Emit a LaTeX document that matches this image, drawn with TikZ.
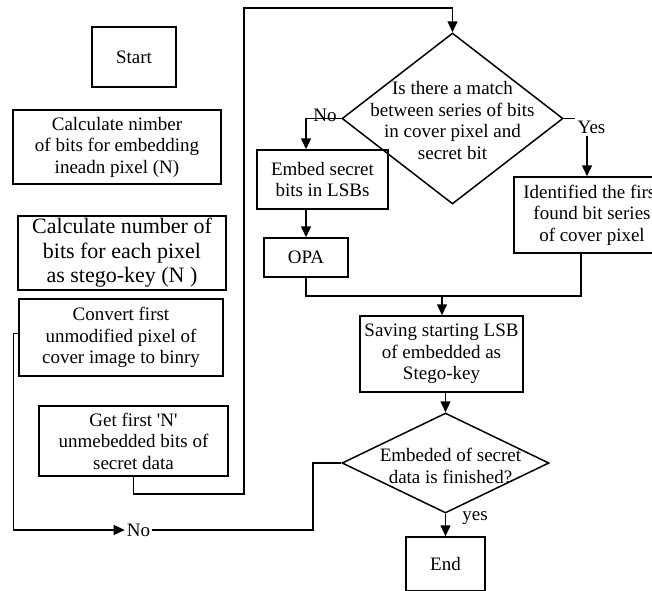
\documentclass[tikz,border=0pt]{standalone}
\usepackage{fontspec}
\setmainfont{Liberation Serif}
\usetikzlibrary{shapes.geometric,arrows.meta}
\begin{document}
\begin{tikzpicture}[x=1pt,y=-1pt,
  every node/.style={font=\fontsize{19}{21.5}\selectfont},
  procbox/.style={draw, line width=1.5pt, inner sep=0pt, align=center},
  decision/.style={draw, line width=1.5pt, shape=diamond, inner sep=0pt},
  flow/.style={line width=1.5pt},
  arr/.style={flow, -{Triangle[length=11pt,width=10pt]}},
  tag/.style={fill=white, inner sep=1pt}
]
\path[use as bounding box, clip] (0,0) rectangle (652,590);

% process boxes
\node[procbox, minimum width=84pt, minimum height=60pt] (start) at (134,57) {Start};
\node[procbox, minimum width=208pt, minimum height=74pt] (calc1) at (117,147)
  {Calculate nimber\\of bits for embedding\\ineadn pixel (N)};
\node[procbox, minimum width=208pt, minimum height=74pt,
      font=\fontsize{22}{24.5}\selectfont] (calc2) at (122,253)
  {Calculate number of\\bits for each pixel\\as stego-key (N )};
\node[procbox, minimum width=204pt, minimum height=77pt] (convert) at (121,337.5)
  {Convert first\\unmodified pixel of\\cover image to binry};
\node[procbox, minimum width=189pt, minimum height=70pt] (getfirst) at (133.5,441)
  {Get first \textquotesingle N\textquotesingle\\unmebedded bits of\\secret data};
\node[procbox, minimum width=131pt, minimum height=59pt] (embed) at (322.5,179.5)
  {Embed secret\\bits in LSBs};
\node[procbox, minimum width=84pt, minimum height=39pt] (opa) at (306,257.5) {OPA};
\node[procbox, minimum width=156pt, minimum height=76pt] (ident) at (592,215)
  {Identified the first\\found bit series\\of cover pixel};
\node[procbox, minimum width=163pt, minimum height=76pt] (saving) at (441.5,354)
  {Saving starting LSB\\of embedded as\\Stego-key};
\node[procbox, minimum width=79pt, minimum height=54pt] (endbox) at (445.5,564) {End};

% decisions
\node[decision, minimum width=221pt, minimum height=171pt,
      label={[align=center, yshift=-2pt]center:{Is there a match\\between series of bits\\in cover pixel and\\secret bit}}]
  (d1) at (452.5,118.5) {};
\node[decision, minimum width=207pt, minimum height=100pt,
      label={[align=center, xshift=5pt, yshift=-3pt]center:{Embeded of secret\\data is finished?}}]
  (d2) at (445.5,463) {};

% helper coordinates
\coordinate (noturn) at (306,118.5);
\coordinate (ycol) at (587,0);
\coordinate (icol) at (581,0);
\coordinate (merge) at (442,296);
\coordinate (loopR) at (244,494);
\coordinate (loopT) at (244,8);
\coordinate (backturn) at (313,530);

% connector labels
\node[tag] (nolab) at (325,115) {No};
\node[inner sep=2pt] (yes) at (591.5,127) {Yes};
\node[inner sep=2pt] (yeslow) at (475,518) {yes};
\node[inner sep=2pt] (no2) at (138.5,530) {No};

% connectors
\draw[arr] (getfirst.south) |- (loopR) -- (loopT) -| (d1.north);
\draw[arr] (d1.west) -- (noturn) -- (embed.north -| noturn);
\draw[flow] (d1.east) -- (d1.east -| yes.west);
\draw[arr] (yes.south -| ycol) -- (ident.north -| ycol);
\draw[arr] (embed.south -| opa.north) -- (opa.north);
\draw[flow] (opa.south) |- (merge);
\draw[flow] (ident.south -| icol) |- (merge);
\draw[arr] (merge) -- (saving.north -| merge);
\draw[arr] (saving.south -| d2.north) -- (d2.north);
\draw[arr] (d2.south) -- (endbox.north);
\draw[arr] ([yshift=4pt]convert.west) -- ++(-5,0) |- (no2.west);
\draw[flow] (d2.west) -| (backturn) -- (no2.east);
\end{tikzpicture}
\end{document}
